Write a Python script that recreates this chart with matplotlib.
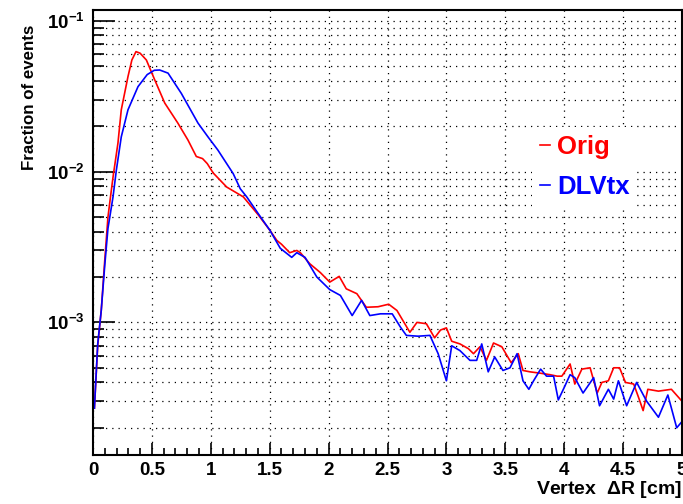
import numpy as np
import matplotlib
matplotlib.use('Agg')
import matplotlib.pyplot as plt
from matplotlib.ticker import MultipleLocator, LogLocator, LogFormatterMathtext, NullFormatter

plt.rcParams['font.family'] = ['Liberation Sans', 'DejaVu Sans']
plt.rcParams['font.weight'] = 'bold'
plt.rcParams['mathtext.fontset'] = 'custom'
plt.rcParams['mathtext.rm'] = 'Liberation Sans:bold'
plt.rcParams['mathtext.it'] = 'Liberation Sans:bold'
plt.rcParams['mathtext.bf'] = 'Liberation Sans:bold'

# Orig (red)
orig_x = [0.012, 0.04, 0.07, 0.10, 0.127, 0.142, 0.17, 0.212, 0.24, 0.297, 0.33, 0.365, 0.40,
          0.453, 0.524, 0.609, 0.72, 0.806, 0.877, 0.93, 0.97, 1.02, 1.135, 1.276, 1.40, 1.50,
          1.56, 1.60, 1.67, 1.73, 1.76, 1.84, 1.93, 2.01, 2.09, 2.15, 2.24, 2.32, 2.42, 2.51,
          2.58, 2.69, 2.75, 2.83, 2.90, 2.95, 3.00, 3.045, 3.115, 3.186, 3.23, 3.285, 3.34,
          3.40, 3.47, 3.55, 3.61, 3.65, 3.71, 3.80, 3.88, 3.94, 3.98, 4.05, 4.09, 4.15, 4.22,
          4.28, 4.32, 4.375, 4.42, 4.47, 4.52, 4.59, 4.63, 4.67, 4.71, 4.80, 4.91, 5.0]
orig_y = [2.7e-4, 7.0e-4, 1.2e-3, 2.6e-3, 5.0e-3, 6.2e-3, 9.2e-3, 0.0155, 0.0257, 0.0427, 0.055,
          0.0625, 0.061, 0.055, 0.0406, 0.0285, 0.021, 0.0162, 0.0126, 0.0122, 0.0113, 0.0098,
          0.0079, 0.0068, 0.0052, 0.0041, 0.0035, 0.0033, 0.0029, 0.0030, 0.0029, 0.00245,
          0.00214, 0.00185, 0.00202, 0.00167, 0.00155, 0.00126, 0.00127, 0.00132, 0.0012,
          8.6e-4, 1.0e-3, 9.8e-4, 7.9e-4, 8.9e-4, 9.2e-4, 7.5e-4, 7.2e-4, 6.7e-4, 6.2e-4,
          6.9e-4, 5.6e-4, 7.3e-4, 6.9e-4, 5.4e-4, 6.2e-4, 4.8e-4, 4.7e-4, 4.6e-4, 4.5e-4,
          4.4e-4, 4.4e-4, 5.3e-4, 3.9e-4, 4.9e-4, 5.0e-4, 3.4e-4, 4.0e-4, 4.1e-4, 5.0e-4,
          5.0e-4, 4.0e-4, 3.9e-4, 3.2e-4, 2.6e-4, 3.6e-4, 3.5e-4, 3.6e-4, 3.0e-4]

# DLVtx (blue)
dlvtx_x = [0.012, 0.04, 0.07, 0.10, 0.127, 0.17, 0.198, 0.24, 0.297, 0.382, 0.46, 0.52, 0.566,
           0.637, 0.75, 0.891, 0.976, 1.06, 1.19, 1.25, 1.305, 1.40, 1.50, 1.59, 1.687, 1.73,
           1.80, 1.90, 2.01, 2.10, 2.20, 2.28, 2.35, 2.44, 2.54, 2.61, 2.66, 2.76, 2.86, 2.93,
           3.00, 3.045, 3.115, 3.20, 3.257, 3.30, 3.355, 3.41, 3.48, 3.54, 3.60, 3.65, 3.70,
           3.74, 3.80, 3.85, 3.91, 3.95, 4.0, 4.05, 4.09, 4.16, 4.25, 4.30, 4.375, 4.42, 4.46,
           4.53, 4.615, 4.70, 4.80, 4.88, 4.955, 5.0]
dlvtx_y = [2.7e-4, 7.2e-4, 1.2e-3, 2.4e-3, 4.2e-3, 6.8e-3, 0.0102, 0.017, 0.0257, 0.0366, 0.044,
           0.047, 0.0472, 0.045, 0.033, 0.021, 0.017, 0.0139, 0.0097, 0.0077, 0.0068, 0.0053,
           0.0041, 0.0031, 0.0027, 0.0029, 0.0027, 0.0020, 0.00165, 0.00151, 0.00111, 0.0014,
           0.00111, 0.00114, 0.00114, 9.3e-4, 8.2e-4, 8.1e-4, 8.2e-4, 6.2e-4, 4.1e-4, 7.0e-4,
           6.5e-4, 5.6e-4, 5.6e-4, 7.2e-4, 4.7e-4, 5.9e-4, 4.8e-4, 5.0e-4, 6.2e-4, 4.1e-4,
           3.6e-4, 4.1e-4, 4.9e-4, 4.4e-4, 4.4e-4, 3.06e-4, 3.7e-4, 4.5e-4, 4.3e-4, 3.4e-4,
           4.3e-4, 2.8e-4, 3.6e-4, 3.1e-4, 4.1e-4, 2.8e-4, 4.0e-4, 3.0e-4, 2.35e-4, 3.3e-4,
           2.0e-4, 2.2e-4]

fig = plt.figure(figsize=(6.83, 5.04), dpi=100)
ax = fig.add_axes([93/683, 1-455/504, 589/683, 445/504])

ax.plot(orig_x, orig_y, color='#ff0000', lw=1.2, label='Orig')
ax.plot(dlvtx_x, dlvtx_y, color='#0000ff', lw=1.2, label='DLVtx')

ax.set_yscale('log')
ax.set_xlim(0, 5)
ax.set_ylim(1.32e-4, 0.118)

ax.xaxis.set_major_locator(MultipleLocator(0.5))
ax.xaxis.set_minor_locator(MultipleLocator(0.1))
ax.yaxis.set_major_locator(LogLocator(base=10))
ax.yaxis.set_minor_locator(LogLocator(base=10, subs=np.arange(2, 10)))
ax.yaxis.set_major_formatter(LogFormatterMathtext())
ax.yaxis.set_minor_formatter(NullFormatter())
ax.xaxis.set_major_formatter(matplotlib.ticker.FuncFormatter(lambda v, p: '%g' % v))

ax.grid(True, which='major', axis='x', color='black', ls=(0, (1, 4)), lw=0.9)
ax.grid(True, which='both', axis='y', color='black', ls=(0, (1, 4)), lw=0.9)

ax.tick_params(axis='x', which='major', direction='in', length=9, width=1.2, labelsize=13.5, pad=5)
ax.tick_params(axis='x', which='minor', direction='in', length=5, width=1.2)
ax.tick_params(axis='y', which='major', direction='in', length=16, width=1.2, labelsize=13.5, pad=6)
ax.tick_params(axis='y', which='minor', direction='in', length=8, width=1.2)
for s in ax.spines.values():
    s.set_linewidth(1.5)

ax.set_ylabel('Fraction of events', fontsize=12.2, fontweight='bold')
ax.yaxis.set_label_coords(-0.095, 0.803)
fig.text(682/683, 1-490/504, r'Vertex  $\Delta$R [cm]', ha='right', va='center',
         fontsize=14, fontweight='bold')

leg = ax.legend(loc='upper left', bbox_to_anchor=(0.746, 0.737), frameon=True,
                fancybox=False, edgecolor='none', facecolor='white', framealpha=1,
                handlelength=0.4, handletextpad=0.25, labelspacing=0.65,
                borderpad=0.3, borderaxespad=0, prop={'weight': 'bold', 'size': 18.5})
for t, c in zip(leg.get_texts(), ['#ff0000', '#0000ff']):
    t.set_color(c)

fig.savefig('out.png', dpi=100)
